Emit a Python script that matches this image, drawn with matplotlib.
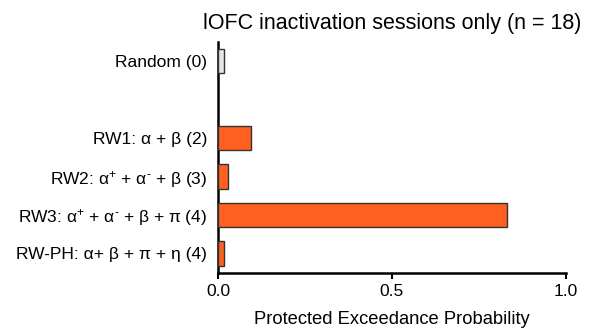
import numpy as np
import matplotlib
matplotlib.use('Agg')
import matplotlib.pyplot as plt

plt.rcParams['font.family'] = ['Liberation Sans', 'DejaVu Sans']
plt.rcParams['mathtext.fontset'] = 'custom'
plt.rcParams['mathtext.rm'] = 'Liberation Sans'
plt.rcParams['mathtext.it'] = 'Liberation Sans'

models = ['RW-PH: α+ β + π + η (4)',
          'RW3: α$^{+}$ + α$^{\u2010}$ + β + π (4)',
          'RW2: α$^{+}$ + α$^{\u2010}$ + β (3)',
          'RW1: α + β (2)',
          'Random (0)']
pep = [0.018, 0.832, 0.028, 0.094, 0.018]
ypos = [0, 1, 2, 3, 5]
colors = ['#FF5F1F', '#FF5F1F', '#FF5F1F', '#FF5F1F', '#E5E5EC']

fig = plt.figure(figsize=(5.95, 3.3), dpi=100)
ax = fig.add_axes([218/595, 1 - 272.7/330, 347.7/595, 231/330])

ax.barh(ypos, pep, height=0.63, color=colors, edgecolor='#333333', linewidth=1.0, zorder=3)

ax.set_xlim(0, 1.0)
ax.set_ylim(-0.5, 5.5)
ax.set_yticks(ypos)
ax.set_yticklabels(models, fontsize=12.5)
ax.set_xticks([0, 0.5, 1.0])
ax.set_xticklabels(['0.0', '0.5', '1.0'], fontsize=12.5)
ax.tick_params(axis='y', length=0, pad=8)
ax.tick_params(axis='x', length=4, width=1.5, pad=4)
for s in ['top', 'right']:
    ax.spines[s].set_visible(False)
for s in ['left', 'bottom']:
    ax.spines[s].set_linewidth(1.8)
ax.set_xlabel('Protected Exceedance Probability', fontsize=13.2, labelpad=9)
ax.set_title('lOFC inactivation sessions only (n = 18)', fontsize=15.5, pad=9)

fig.savefig('out.png', dpi=100)
